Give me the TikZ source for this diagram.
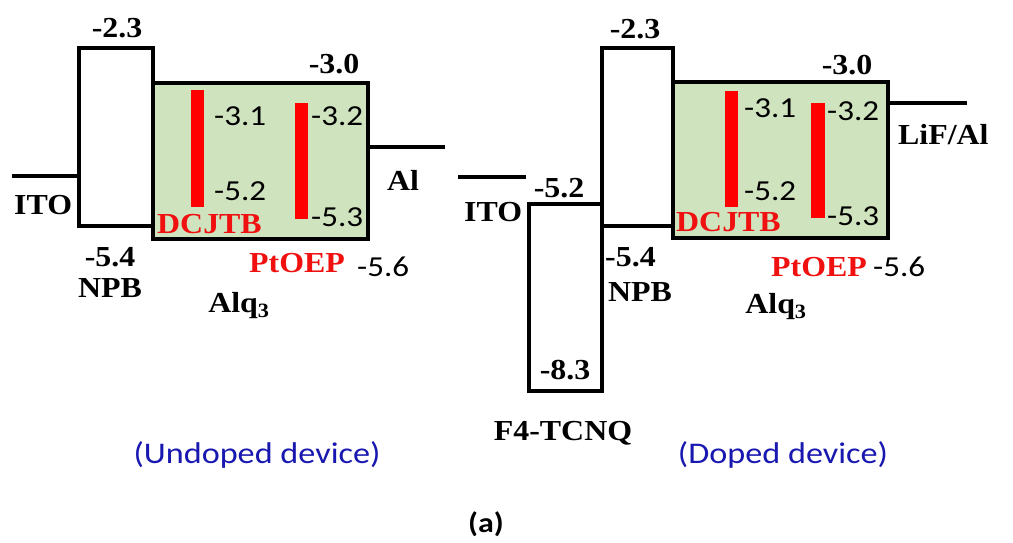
\documentclass[tikz,border=0pt]{standalone}
\usepackage{fontspec}
\setmainfont{Liberation Serif}[FakeStretch=1.1]
\newfontfamily\calibfont{Carlito}[FakeStretch=1.14]
\usepackage{tikz}
\usepackage{xcolor}
\definecolor{alqgreen}{RGB}{207,227,190}
\definecolor{dopred}{RGB}{240,16,16}
\definecolor{capblue}{RGB}{24,24,176}

\begin{document}
\begin{tikzpicture}[x=1pt,y=-1pt,
  lvl/.style={font=\fontsize{29}{30}\selectfont\bfseries, inner sep=0pt},
  val/.style={font=\calibfont\fontsize{29}{30}\selectfont, inner sep=0pt},
  dopant/.style={lvl, text=dopred},
  devlabel/.style={font=\calibfont\fontsize{30}{31}\selectfont, text=capblue, inner sep=0pt},
  figlabel/.style={font=\calibfont\fontsize{28}{29}\selectfont\bfseries, inner sep=0pt},
  levelbox/.style={line width=3.6pt}]
\useasboundingbox (0,0) rectangle (1013,543);
% undoped device
\fill[alqgreen] (153,83) rectangle (368,239);
\fill[red] (191,90) rectangle (204,207);
\fill[red] (295,103) rectangle (308,219);
\draw[levelbox] (79,48) rectangle (153,226);
\draw[levelbox] (153,83) rectangle (368,239);
\draw[levelbox] (12,176) -- (79,176);
\draw[levelbox] (368,147) -- (445,147);
\node[lvl] (uNpbLumo) at (117,28) {-2.3};
\node[lvl] (uAlqLumo) at (334,64) {-3.0};
\node[val,anchor=west] (uDcLumo) at (214,116) {-3.1};
\node[val,anchor=west] (uDcHomo) at (214,191) {-5.2};
\node[val,anchor=west] (uPtLumo) at (311,116) {-3.2};
\node[val,anchor=west] (uPtHomo) at (311,217) {-5.3};
\node[dopant,anchor=west] (uDcName) at (157,224) {DCJTB};
\node[lvl,anchor=west] (uIto) at (14,205) {ITO};
\node[lvl,anchor=west] (uAl) at (387,180) {Al};
\node[lvl] (uNpbHomo) at (110,257) {-5.4};
\node[lvl] (uNpbName) at (110,288) {NPB};
\node[dopant,anchor=west] (uPtName) at (249,263) {PtOEP};
\node[val,anchor=west] (uAlqHomo) at (357,267) {-5.6};
\node[lvl] (uAlqName) at (239,306) {Alq\textsubscript{3}};
\node[devlabel] (uTitle) at (257,455) {(Undoped device)};
% doped device
\fill[alqgreen] (673,82) rectangle (888,238);
\fill[red] (725,91) rectangle (738,207);
\fill[red] (811,103) rectangle (825,218);
\draw[levelbox] (529,204) rectangle (602,391);
\draw[levelbox] (602,48) rectangle (673,226);
\draw[levelbox] (673,82) rectangle (888,238);
\draw[levelbox] (458,177) -- (526,177);
\draw[levelbox] (888,103) -- (967,103);
\node[lvl] (dNpbLumo) at (635,29) {-2.3};
\node[lvl,anchor=west] (dIto) at (464,212) {ITO};
\node[lvl] (dItoLvl) at (559,188) {-5.2};
\node[lvl] (dAlqLumo) at (847,65) {-3.0};
\node[val,anchor=west] (dDcLumo) at (744,108) {-3.1};
\node[val,anchor=west] (dDcHomo) at (744,191) {-5.2};
\node[val,anchor=west] (dPtLumo) at (827,111) {-3.2};
\node[val,anchor=west] (dPtHomo) at (827,216) {-5.3};
\node[dopant,anchor=west] (dDcName) at (676,222) {DCJTB};
\node[lvl,anchor=west] (dLif) at (898,135) {LiF/Al};
\node[lvl,anchor=west] (dNpbHomo) at (605,257) {-5.4};
\node[lvl,anchor=west] (dNpbName) at (608,292) {NPB};
\node[dopant,anchor=west] (dPtName) at (771,267) {PtOEP};
\node[val,anchor=west] (dAlqHomo) at (873,267) {-5.6};
\node[lvl] (dAlqName) at (776,307) {Alq\textsubscript{3}};
\node[lvl] (dF4Homo) at (565,370) {-8.3};
\node[lvl] (dF4Name) at (563,433) {F4-TCNQ};
\node[devlabel] (dTitle) at (783,455) {(Doped device)};
\node[figlabel] (panel) at (486,524) {(a)};
\end{tikzpicture}
\end{document}
